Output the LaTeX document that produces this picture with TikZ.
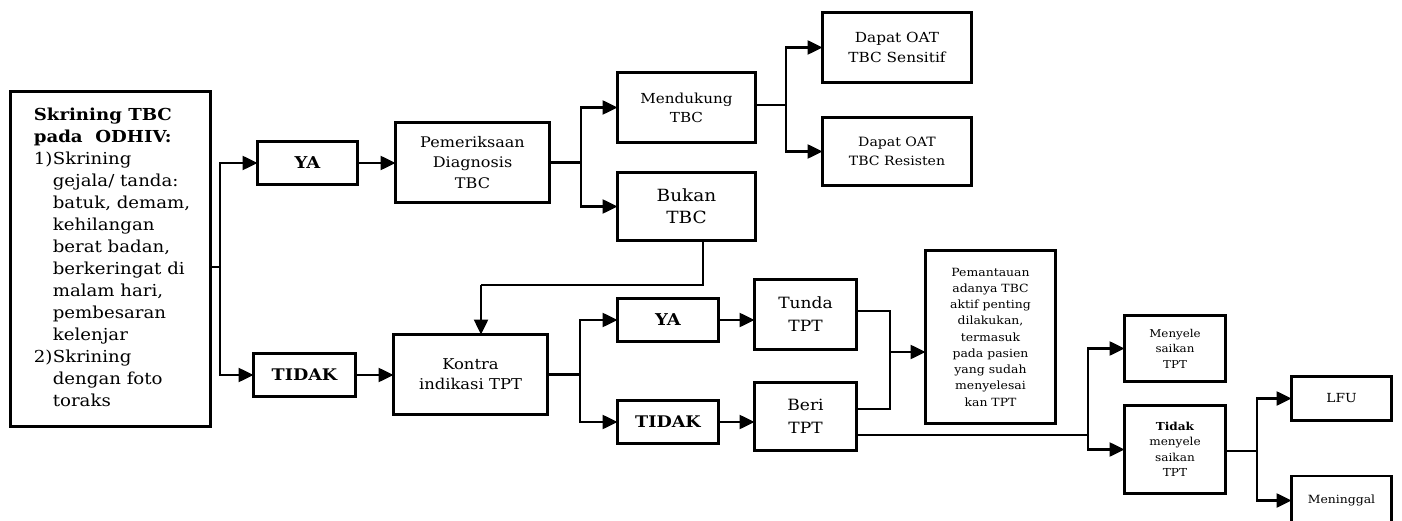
\documentclass[tikz,border=0pt]{standalone}
\usepackage{fontspec}
\setmainfont{DejaVu Serif}[FakeStretch=1.1]
\usetikzlibrary{arrows.meta}
\newcommand{\fs}[2]{\fontsize{#1}{#2}\selectfont}
\tikzset{
  x=1pt, y=-1pt,
  box/.style={draw, line width=2.8pt, inner sep=0pt, outer sep=0pt, align=center, fill=white},
  conn/.style={line width=2.5pt},
  arr/.style={line width=2.5pt, -{Triangle[length=15pt,width=14pt]}},
}
\begin{document}
\begin{tikzpicture}
\useasboundingbox (0,0) rectangle (1402,521);
% nodes
\node[box, minimum width=200pt, minimum height=335pt, font={\fs{16.5}{21.8}}] (main) at (110.5,259) {%
\def\arraystretch{1.01}%
\begin{tabular}{@{}p{19pt}@{}l@{}}
\multicolumn{2}{@{}l@{}}{\bfseries Skrining TBC}\\
\multicolumn{2}{@{}l@{}}{\bfseries pada\ \ ODHIV:}\\
1)&Skrining\\
 &gejala/ tanda:\\
 &batuk, demam,\\
 &kehilangan\\
 &berat badan,\\
 &berkeringat di\\
 &malam hari,\\
 &pembesaran\\
 &kelenjar\\
2)&Skrining\\
 &dengan foto\\
 &toraks
\end{tabular}\hspace{-3pt}};
\node[box, minimum width=100pt, minimum height=43pt, font={\fs{16.3}{17}\bfseries}] (ya1) at (307.5,163) {YA};
\node[box, minimum width=154pt, minimum height=80pt, font={\fs{14.6}{20.7}}] (pem) at (472.5,162.5) {Pemeriksaan\\Diagnosis\\TBC};
\node[box, minimum width=138pt, minimum height=70pt, font={\fs{13.8}{19}}] (mend) at (686.5,107.5) {Mendukung\\TBC};
\node[box, minimum width=138pt, minimum height=68pt, font={\fs{16.8}{21.7}}] (bukan) at (686.5,206.5) {Bukan\\TBC};
\node[box, minimum width=149pt, minimum height=70pt, font={\fs{13.9}{20}}] (ds) at (897,47.5) {Dapat OAT\\TBC Sensitif};
\node[box, minimum width=149pt, minimum height=68pt, font={\fs{12.8}{18.5}}] (dr) at (897,151.5) {Dapat OAT\\TBC Resisten};
\node[box, minimum width=102pt, minimum height=43pt, font={\fs{16}{17}\bfseries}] (tidak1) at (304.5,375) {TIDAK};
\node[box, minimum width=154pt, minimum height=80pt, font={\fs{14.9}{20}}] (kontra) at (470.5,374.5) {Kontra\\indikasi TPT};
\node[box, minimum width=101pt, minimum height=43pt, font={\fs{16.3}{17}\bfseries}] (ya2) at (668,320) {YA};
\node[box, minimum width=101pt, minimum height=43pt, font={\fs{16}{17}\bfseries}] (tidak2) at (668,422) {TIDAK};
\node[box, minimum width=102pt, minimum height=70pt, font={\fs{15.5}{23}}] (tunda) at (805.5,314.5) {Tunda\\TPT};
\node[box, minimum width=102pt, minimum height=68pt, font={\fs{15.5}{23}}] (beri) at (805.5,416.5) {Beri\\TPT};
\node[box, minimum width=130pt, minimum height=173pt, font={\fs{11.3}{16.25}}] (pant) at (990.5,337) {Pemantauan\\adanya TBC\\aktif penting\\dilakukan,\\termasuk\\pada pasien\\yang sudah\\menyelesai\\kan TPT};
\node[box, minimum width=101pt, minimum height=66pt, font={\fs{10.8}{15.5}}] (meny) at (1175,348.5) {Menyele\\saikan\\TPT};
\node[box, minimum width=101pt, minimum height=88pt, font={\fs{11}{15.5}}] (tidakm) at (1175,449.5) {\textbf{Tidak}\\menyele\\saikan\\TPT};
\node[box, minimum width=100pt, minimum height=44pt, font={\fs{12.5}{15}}] (lfu) at (1341.5,398.5) {LFU};
\node[box, minimum width=100pt, minimum height=49pt, font={\fs{11.3}{15}}] (men) at (1341.5,500.5) {Meninggal};
% junction coordinates
\coordinate (b1) at (220,267);
\coordinate (b2) at (581,162.5);
\coordinate (b3) at (786,105);
\coordinate (c1) at (703,285);
\coordinate (c2) at (481,285);
\coordinate (b4) at (580,374.5);
\coordinate (c3) at (890,311);
\coordinate (c4) at (890,409);
\coordinate (c5) at (890,352);
\coordinate (b5) at (1088,435);
\coordinate (b6) at (1257,451);
% connectors
\draw[conn] (main.east |- b1) -- (b1);
\draw[arr] (b1) |- (ya1.west);
\draw[arr] (b1) |- (tidak1.west);
\draw[arr] (ya1.east) -- (ya1.east -| pem.west);
\draw[conn] (pem.east |- b2) -- (b2);
\draw[arr] (b2) |- (mend.west);
\draw[arr] (b2) |- (bukan.west);
\draw[conn] (mend.east |- b3) -- (b3);
\draw[arr] (b3) |- (ds.west);
\draw[arr] (b3) |- (dr.west);
\draw[conn] (bukan.south -| c1) -- (c1) -- (c2);
\draw[arr] (c2) -- (c2 |- kontra.north);
\draw[arr] (tidak1.east) -- (tidak1.east -| kontra.west);
\draw[conn] (kontra.east |- b4) -- (b4);
\draw[arr] (b4) |- (ya2.west);
\draw[arr] (b4) |- (tidak2.west);
\draw[arr] (ya2.east) -- (ya2.east -| tunda.west);
\draw[arr] (tidak2.east) -- (tidak2.east -| beri.west);
\draw[conn] (c3 -| tunda.east) -- (c3) -- (c4) -- (c4 -| beri.east);
\draw[arr] (c5) -- (c5 -| pant.west);
\draw[conn] (b5 -| beri.east) -- (b5);
\draw[arr] (b5) |- (meny.west);
\draw[arr] (b5) |- (tidakm.west);
\draw[conn] (tidakm.east |- b6) -- (b6);
\draw[arr] (b6) |- (lfu.west);
\draw[arr] (b6) |- (men.west);
\end{tikzpicture}
\end{document}
